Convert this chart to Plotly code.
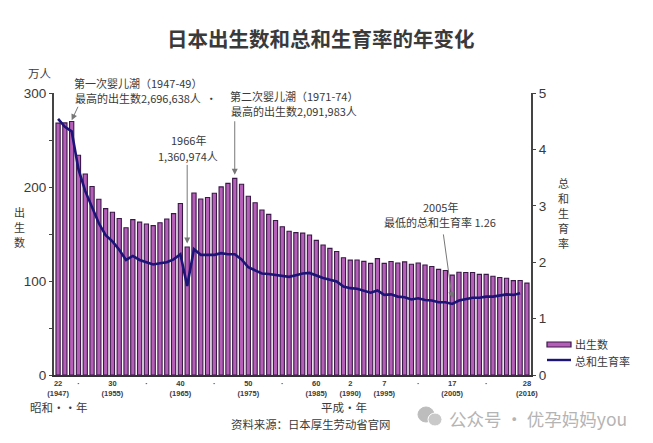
import plotly.graph_objects as go

years = list(range(1947, 2017))
births = [267.9, 268.2, 269.7, 233.8, 213.8, 200.5, 186.9, 177.0, 173.1, 166.5,
          156.7, 165.3, 162.6, 160.6, 158.9, 161.9, 166.0, 171.7, 182.4, 136.1,
          193.6, 187.2, 188.9, 193.4, 200.1, 203.9, 209.2, 203.0, 190.1, 183.3,
          175.5, 170.9, 164.3, 157.7, 152.9, 151.5, 150.9, 149.0, 143.2, 138.3,
          134.7, 131.4, 124.7, 122.2, 122.3, 120.9, 118.8, 123.8, 118.7, 120.7,
          119.2, 120.3, 117.8, 119.1, 117.1, 115.4, 112.4, 111.1, 106.3, 109.3,
          109.0, 109.1, 107.0, 107.1, 105.1, 103.7, 103.0, 100.4, 100.6, 97.7]
tfr_years = list(range(1947, 2016))
tfr = [4.54, 4.40, 4.32, 3.65, 3.26, 2.98, 2.69, 2.48, 2.37, 2.22,
       2.04, 2.11, 2.04, 2.00, 1.96, 1.98, 2.00, 2.05, 2.14, 1.58,
       2.23, 2.13, 2.13, 2.13, 2.16, 2.14, 2.14, 2.05, 1.91, 1.85,
       1.80, 1.79, 1.77, 1.75, 1.74, 1.77, 1.80, 1.81, 1.76, 1.72,
       1.69, 1.66, 1.57, 1.54, 1.53, 1.50, 1.46, 1.50, 1.42, 1.43,
       1.39, 1.38, 1.34, 1.36, 1.33, 1.32, 1.29, 1.29, 1.26, 1.32,
       1.34, 1.37, 1.37, 1.39, 1.39, 1.41, 1.43, 1.42, 1.45]

x_ticks = [1947, 1950, 1955, 1960, 1965, 1970, 1975, 1980, 1985, 1990, 1995, 2000, 2005, 2010, 2016]
x_labels = ['22<br>(1947)', '·', '30<br>(1955)', '·', '40<br>(1965)', '·', '50<br>(1975)', '·',
            '60<br>(1985)', '2<br>(1990)', '7<br>(1995)', '·', '17<br>(2005)', '·', '28<br>(2016)']
left_ticks = [0, 50, 100, 150, 200, 250, 300]
left_labels = ['0', '', '100', '', '200', '', '300']

CJK = 'Noto Sans CJK SC'
GREY = '#3A3A3A'
BAR_FILL = '#B65FB8'
BAR_EDGE = '#3A1848'
LINE = '#1C1478'

fig = go.Figure()
fig.add_trace(go.Bar(x=years, y=births, name='出生数', width=0.62,
                     marker=dict(color=BAR_FILL, line=dict(color=BAR_EDGE, width=1.1))))
fig.add_trace(go.Scatter(x=tfr_years, y=tfr, name='总和生育率', mode='lines', yaxis='y2',
                         line=dict(color=LINE, width=2.6)))


def px_x(x):
    return (x - 54) / 477


def px_y(y):
    return (375 - y) / 282


def note(text, x, y, size=11, anchor='left', color=GREY, bold=False):
    # free text, positioned in pixels of the page
    fig.add_annotation(text=text, xref='paper', yref='paper', showarrow=False,
                       x=px_x(x), y=px_y(y), xanchor=anchor, yanchor='middle',
                       align='center' if anchor == 'center' else 'left',
                       font=dict(family=CJK, size=size, color=color, weight='bold' if bold else 'normal'))


def arrow(year, value, ax, ay):
    fig.add_annotation(x=year, y=value, ax=ax, ay=ay, text='', showarrow=True,
                       arrowhead=2, arrowwidth=1, arrowsize=1.2, arrowcolor='#777777')


def box(kind, x0, y0, x1, y1, fill, edge=None, width=1):
    fig.add_shape(type=kind, xref='paper', yref='paper', x0=px_x(x0), x1=px_x(x1), y0=px_y(y0), y1=px_y(y1),
                  fillcolor=fill, line=dict(color=edge or fill, width=width))


arrow(1949, 271, 7, -15)
arrow(1973, 213, 0, -55)
arrow(1966, 140, 0, -80)
arrow(2005, 82, -9, -65)

note('第一次婴儿潮（1947-49）', 72, 83)
note('最高的出生数2,696,638人  ·', 73, 98)
note('第二次婴儿潮（1971-74）', 228, 96)
note('最高的出生数2,091,983人', 229, 111)
note('1966年', 188, 140, anchor='center')
note('1,360,974人', 188, 156, anchor='center')
note('2005年', 440, 207, anchor='center')
note('最低的总和生育率 1.26', 440, 222, anchor='center')
note('日本出生数和总和生育率的年变化', 321, 38, size=20.5, anchor='center', bold=True)
note('万人', 26, 73, size=11.5)
for i, ch in enumerate('出生数'):
    note(ch, 19, 212 + i * 15, anchor='center')
for i, ch in enumerate('总和生育率'):
    note(ch, 563, 183 + i * 15, anchor='center')
note('昭和··年', 28, 407, size=11.5)
note('平成·年', 344, 407, size=11.5, anchor='center')
note('资料来源：日本厚生劳动省官网', 310, 424, size=11.4, anchor='center')

# legend drawn by hand, the swatches here are wider than plotly's own
box('rect', 547, 342, 571, 347, BAR_FILL, BAR_EDGE, 1.2)
box('line', 547, 360, 571, 360, LINE, LINE, 2.4)
note('出生数', 573, 344)
note('总和生育率', 573, 361)

# watermark
box('circle', 418, 407, 434, 422, '#BDBDBD')
box('circle', 428, 413, 442, 426, '#C9C9C9', 'white', 1)
note('公众号 · 优孕妈妈you', 447, 418, size=17.5, color='#B4B4B4')

fig.update_layout(
    width=645, height=435, margin=dict(l=46, r=122, t=85, b=68),
    paper_bgcolor='white', plot_bgcolor='white', showlegend=False,
    font=dict(family='Liberation Sans', color=GREY),
    xaxis=dict(range=[1946.4, 2016.6], tickvals=x_ticks, ticktext=x_labels, ticks='', showgrid=False,
               tickangle=0, tickfont=dict(size=7.5, family='Liberation Sans', weight='bold'),
               showline=True, linecolor='#333333', linewidth=1.5, zeroline=False),
    yaxis=dict(range=[0, 300], tickvals=left_ticks, ticktext=left_labels, ticks='outside', ticklen=3,
               tickcolor='#444444', showgrid=False, showline=True, linecolor='#444444', linewidth=2,
               zeroline=False, tickfont=dict(size=13.5)),
    yaxis2=dict(range=[0, 5], overlaying='y', side='right', tickvals=[0, 1, 2, 3, 4, 5], ticks='outside',
                ticklen=3, tickcolor='#444444', showgrid=False, showline=True, linecolor='#444444',
                linewidth=2, zeroline=False, tickfont=dict(size=13.5)),
)

fig.write_html('out.html')
